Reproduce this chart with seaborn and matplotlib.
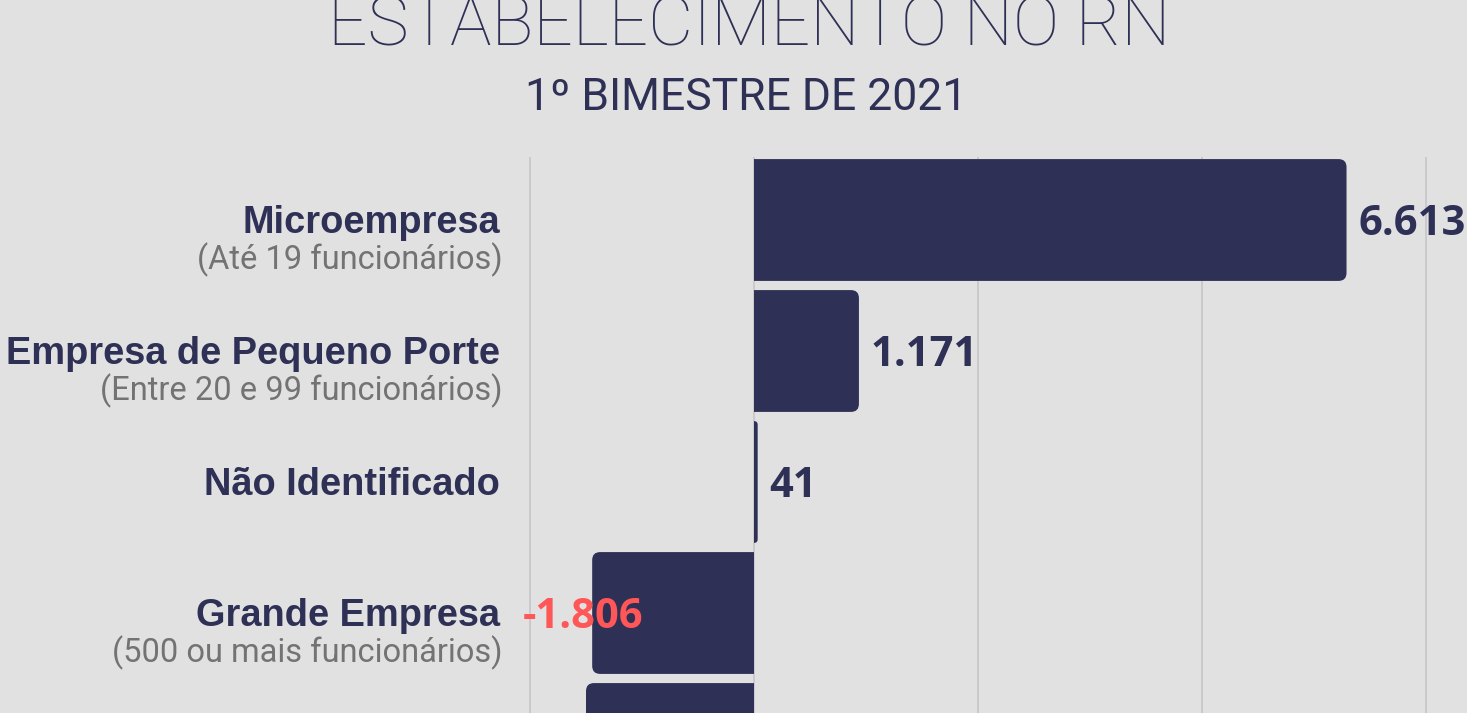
import pandas as pd
import seaborn as sns
import matplotlib.pyplot as plt
from matplotlib.patches import FancyBboxPatch

# Saldo de empregos por porte de estabelecimento - RN, 1º bimestre 2021
categorias = ["Microempresa", "Empresa de Pequeno Porte", "Não Identificado",
              "Grande Empresa", "Média Empresa"]
subtitulos = ["(Até 19 funcionários)", "(Entre 20 e 99 funcionários)", "",
              "(500 ou mais funcionários)", "(Entre 100 e 499 funcionários)"]
saldo = [6613, 1171, 41, -1806, -1875]
grade_x = [-2500, 0, 2500, 5000, 7500]

navy = "#2e3055"
red = "#ff5757"
fundo = "#e1e1e1"
cinza_grid = "#c6c6ca"
cinza_txt = "#737373"

df = pd.DataFrame({"categoria": categorias, "saldo": saldo})

sns.set_style("white")
plt.rcParams["font.family"] = ["Liberation Sans", "DejaVu Sans"]

W, H, DPI = 1467, 713, 100
fig = plt.figure(figsize=(W / DPI, H / DPI), dpi=DPI, facecolor=fundo)

# escala: zero em x=754px, 2500 unidades = 224px; barras a cada 131px
px_x = 224 / 2500
px_y = 131
x0_px, top_px, c0_px = 754, 157, 220
ax_bottom_px = top_px + 5 * px_y
ax = fig.add_axes([0, 1 - ax_bottom_px / H, 1, (ax_bottom_px - top_px) / H])
ax.set_facecolor(fundo)

sns.barplot(data=df, x="saldo", y="categoria", orient="h", color=navy,
            width=0.93, ax=ax, zorder=2)

ax.set_xlim(-x0_px / px_x, (W - x0_px) / px_x)
ax.set_ylim((ax_bottom_px - c0_px) / px_y, (top_px - c0_px) / px_y)

# barras com cantos arredondados no lado externo
r_px = 8
aspect = px_x / px_y
for p, v in zip(list(ax.patches), saldo):
    bb = p.get_bbox()
    xmin, xmax = min(bb.x0, bb.x1), max(bb.x0, bb.x1)
    ymin, ymax = min(bb.y0, bb.y1), max(bb.y0, bb.y1)
    r = min(r_px / px_x, abs(v))
    if v >= 0:
        xa, xb = xmin - r, xmax
    else:
        xa, xb = xmin, xmax + r
    fb = FancyBboxPatch((xa, ymin), xb - xa, ymax - ymin,
                        boxstyle=f"round,pad=0,rounding_size={r}",
                        mutation_aspect=aspect, facecolor=navy,
                        edgecolor="none", zorder=2)
    ax.add_patch(fb)
    fb.set_clip_path(p)
    p.set_facecolor("none")
    p.set_edgecolor("none")

ax.set_xticks(grade_x)
ax.grid(axis="x", color=cinza_grid, linewidth=1.2, zorder=0)
ax.grid(axis="y", visible=False)
ax.set_axisbelow(True)
ax.tick_params(left=False, bottom=False, labelleft=False, labelbottom=False)
ax.set_xlabel("")
ax.set_ylabel("")
sns.despine(ax=ax, left=True, bottom=True)

# rótulos e valores (a última barra fica cortada na borda inferior,
# só as quatro primeiras linhas aparecem inteiras)
x_lab = (500 - x0_px) / px_x
n_vis = 4
for i in range(n_vis):
    cat, sub, v = categorias[i], subtitulos[i], saldo[i]
    ax.text(x_lab, i + 13 / px_y, cat, ha="right", va="baseline",
            fontsize=27.4, fontweight="bold", color=navy,
            family=["Liberation Sans", "DejaVu Sans"])
    if sub:
        ax.text(x_lab + 3 / px_x, i + 49 / px_y, sub, ha="right", va="baseline",
                fontsize=23.5, color=cinza_txt, family=["Roboto", "DejaVu Sans"])

    txt = f"{v:,}".replace(",", ".")
    if v >= 0:
        ax.annotate(txt, xy=(v, i), xytext=(12, -15), textcoords="offset pixels",
                    ha="left", va="baseline", fontsize=30, fontweight="bold",
                    color=navy, family=["Open Sans", "DejaVu Sans"], zorder=3)
    else:
        ax.annotate(txt, xy=(v, i), xytext=(-69, -15), textcoords="offset pixels",
                    ha="left", va="baseline", fontsize=30, fontweight="bold",
                    color=red, family=["Open Sans", "DejaVu Sans"], zorder=3)

# título (cortado no topo, como no original)
fig.text(749.5 / W, 1 - 45 / H, "ESTABELECIMENTO NO RN", ha="center",
         va="baseline", fontsize=50, color=navy, fontweight="light",
         family=["Roboto", "DejaVu Sans"])
fig.text(746 / W, 1 - 110 / H, "1º BIMESTRE DE 2021", ha="center",
         va="baseline", fontsize=32, color=navy,
         family=["Roboto", "DejaVu Sans"])

fig.savefig("out.png", dpi=DPI, facecolor=fundo)
